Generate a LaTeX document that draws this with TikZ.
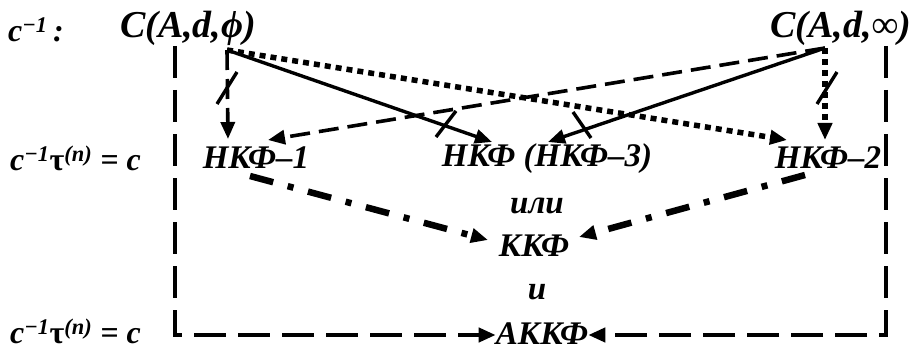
\documentclass[tikz,border=0pt]{standalone}
\usepackage{fontspec}
\setmainfont{Liberation Serif}
\usetikzlibrary{arrows.meta}
\begin{document}
\begin{tikzpicture}[x=1pt,y=-1pt,
  txt/.style={inner sep=0pt,font=\fontsize{33}{35}\selectfont\bfseries\itshape},
  lbl/.style={inner sep=0pt,font=\fontsize{32}{34}\selectfont\bfseries\itshape},
  big/.style={inner sep=0pt,font=\fontsize{38}{40}\selectfont\bfseries\itshape},
  tip/.style={-{Triangle[length=17pt,width=14pt]}},
  solidln/.style={line width=3.4pt,tip},
  dashln/.style={line width=3.6pt,dash pattern=on 20pt off 9pt,tip},
  dotln/.style={line width=5.5pt,dash pattern=on 6pt off 5pt,tip},
  dashdotln/.style={line width=6.5pt,dash pattern=on 24pt off 15pt on 6pt off 15pt,tip},
  frameln/.style={line width=4pt,dash pattern=on 32pt off 12pt},
  tick/.style={line width=3.4pt}]
\useasboundingbox (0,0) rectangle (914,353);

% row labels
\node[lbl,anchor=west] (l0) at (8,30) {c\textsuperscript{−1}\,:};
\node[lbl,anchor=west] (l1) at (10,158) {c\textsuperscript{−1}{\upshape τ}\textsuperscript{(\textit{n})} = c};
\node[lbl,anchor=west] (l2) at (10,331) {c\textsuperscript{−1}{\upshape τ}\textsuperscript{(\textit{n})} = c};

% sources
\node[big] (c1) at (188,28) {C(A,d,ϕ)};
\node[big] (c2) at (841,28) {C(A,d,∞)};

% normal forms
\node[txt] (n1) at (256,158) {НКФ–1};
\node[txt] (n3) at (547,159) {НКФ (НКФ–3)};
\node[txt] (n2) at (828,158) {НКФ–2};
\node[txt] (ili) at (537,206) {или};
\node[txt] (kkf) at (534,246) {ККФ};
\node[txt] (i) at (537,292) {и};
\node[txt] (akkf) at (542,334) {АККФ};

% branching points under the sources
\coordinate (o1) at (227,50);
\coordinate (o2) at (825,48);
\coordinate (lt) at (175,46);
\coordinate (lb) at (175,335);
\coordinate (rt) at (886,46);
\coordinate (rb) at (886,335);

% connectors from C(A,d,phi)
\draw[dashln] (o1) -- (228,139) coordinate (e11);
\draw[solidln] (o1) -- (492,142) coordinate (e13);
\draw[dotln] (o1) -- (787,140) coordinate (e12);

% connectors from C(A,d,inf)
\draw[dotln] (o2) -- (825,140) coordinate (e22);
\draw[solidln] (o2) -- (548,142) coordinate (e23);
\draw[dashln] (o2) -- (268,140) coordinate (e21);

% crossing marks
\draw[tick] (227,88) +(-10,16) -- +(10,-16);
\draw[tick] (446,124) +(-10,13) -- +(10,-13);
\draw[tick] (582,125) +(-9,-13) -- +(9,13);
\draw[tick] (827,88) +(-10,16) -- +(10,-16);

% towards the canonical form
\draw[dashdotln] (250,176) -- (488,240);
\draw[dashdotln] (805,175) -- (579,237);

% outer frame to the final form
\draw[frameln,tip] (lt) -- (lb) -- (akkf.west |- lb);
\draw[frameln,tip] (rt) -- (rb) -- (akkf.east |- rb);
\end{tikzpicture}
\end{document}
